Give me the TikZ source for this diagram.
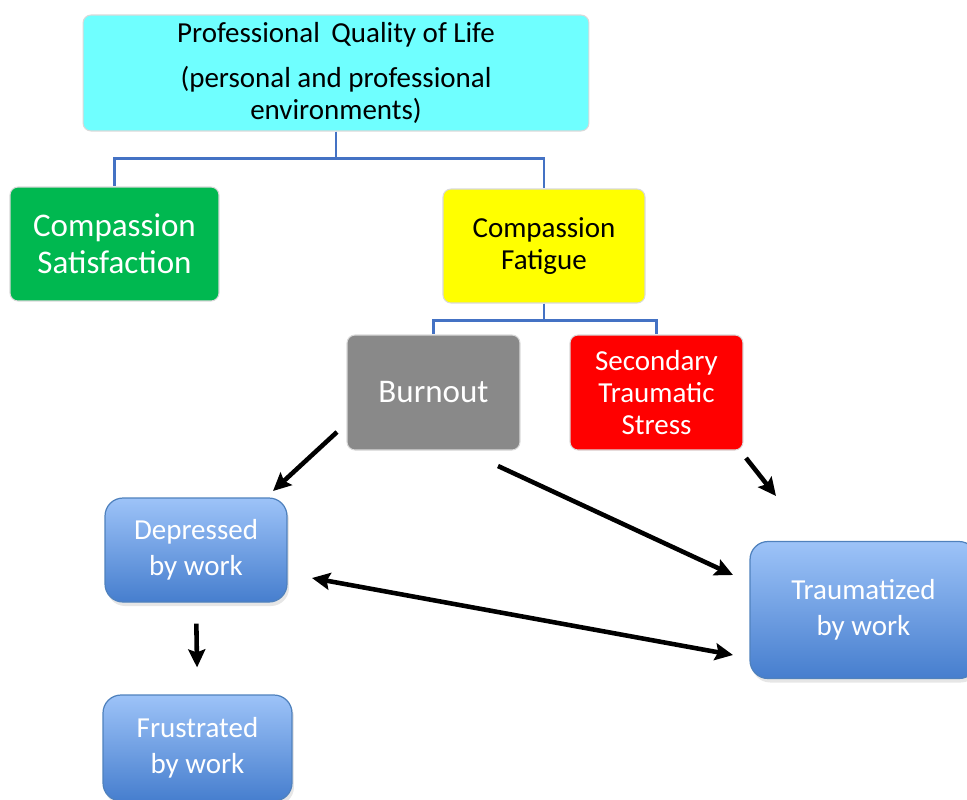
\documentclass[tikz,border=0pt]{standalone}
\usepackage{fontspec}
\setmainfont{Carlito}
\usepackage{tikz}
\usetikzlibrary{arrows.meta,shadows}

\definecolor{qlcyan}{RGB}{111,255,255}
\definecolor{csgreen}{RGB}{0,184,80}
\definecolor{cfyellow}{RGB}{255,255,0}
\definecolor{bogray}{RGB}{137,137,137}
\definecolor{stsred}{RGB}{255,0,0}
\definecolor{blueup}{RGB}{157,195,248}
\definecolor{bluedown}{RGB}{70,126,206}
\definecolor{boxedge}{RGB}{79,129,189}
\definecolor{treeblue}{RGB}{68,114,196}

\begin{document}
\begin{tikzpicture}[x=0.02cm,y=-0.02cm,>={Stealth[length=0.36cm,width=0.34cm,inset=0.06cm]},
				box/.style={draw=black!15, line width=0.6pt, rounded corners=0.16cm, align=center, inner sep=0pt}
				,bluebox/.style={draw=boxedge, line width=0.7pt, rounded corners=0.36cm, align=center, inner sep=0pt,
					top color=blueup, bottom color=bluedown, text=white, font=\fontsize{16.5}{20.5}\selectfont,
					drop shadow={opacity=0.2,shadow xshift=0.04cm,shadow yshift=-0.08cm}}
				,tree/.style={draw=treeblue, line width=1.4pt}
				,arr/.style={->, line width=2.6pt}
				]
				\useasboundingbox (0,0) rectangle (967,799);
				
				\node[box, fill=qlcyan, minimum width=10.12cm, minimum height=2.32cm, font=\fontsize{16.5}{18.2}\selectfont] (qol) at (336,73) {Professional\hspace{0.1cm} Quality of Life\\[0.26cm](personal and professional\\environments)};
				\node[box, fill=csgreen, text=white, minimum width=4.18cm, minimum height=2.28cm, font=\fontsize{18.8}{21}\selectfont] (cs) at (114.5,244) {Compassion\\Satisfaction};
				\node[box, fill=cfyellow, minimum width=4.04cm, minimum height=2.28cm, font=\fontsize{16.5}{18.2}\selectfont] (cf) at (544,246) {Compassion\\Fatigue};
				\node[box, fill=bogray, text=white, minimum width=3.46cm, minimum height=2.3cm, font=\fontsize{18.8}{21}\selectfont] (bo) at (433.5,392.5) {Burnout};
				\node[box, fill=stsred, text=white, minimum width=3.46cm, minimum height=2.3cm, font=\fontsize{16.5}{18.2}\selectfont] (sts) at (656.5,392.5) {Secondary\\Traumatic\\Stress};
				\node[bluebox, minimum width=3.64cm, minimum height=2.08cm] (dep) at (196,550) {Depressed\\by work};
				\node[bluebox, minimum width=3.78cm, minimum height=2.12cm] (frus) at (197.5,748) {Frustrated\\by work};
				\node[bluebox, minimum width=4.54cm, minimum height=2.74cm] (trau) at (863.5,610) {Traumatized\\by work};
				
				% tree lines
				\draw[tree] (qol.south) -- ++(0,27) -| (cs.north);
				\draw[tree] (qol.south) -- ++(0,27) -| (cf.north);
				\draw[tree] (cf.south) -- ++(0,17) -| (bo.north);
				\draw[tree] (cf.south) -- ++(0,17) -| (sts.north);
				
				% arrow ends
				\coordinate (a1) at (337,432);
				\coordinate (a2) at (273,491);
				\coordinate (a3) at (498,466);
				\coordinate (a4) at (733,575);
				\coordinate (a5) at (746,458);
				\coordinate (a6) at (776,496);
				\coordinate (a7) at (312,578);
				\coordinate (a8) at (733,655);
				
				\draw[arr] (a1) -- (a2);
				\draw[arr] (a3) -- (a4);
				\draw[arr] (a5) -- (a6);
				\draw[arr, <->] (a7) -- (a8);
				\draw[arr, shorten <=0.42cm, shorten >=0.54cm] (dep.south) -- (frus.north);
\end{tikzpicture}
\end{document}
